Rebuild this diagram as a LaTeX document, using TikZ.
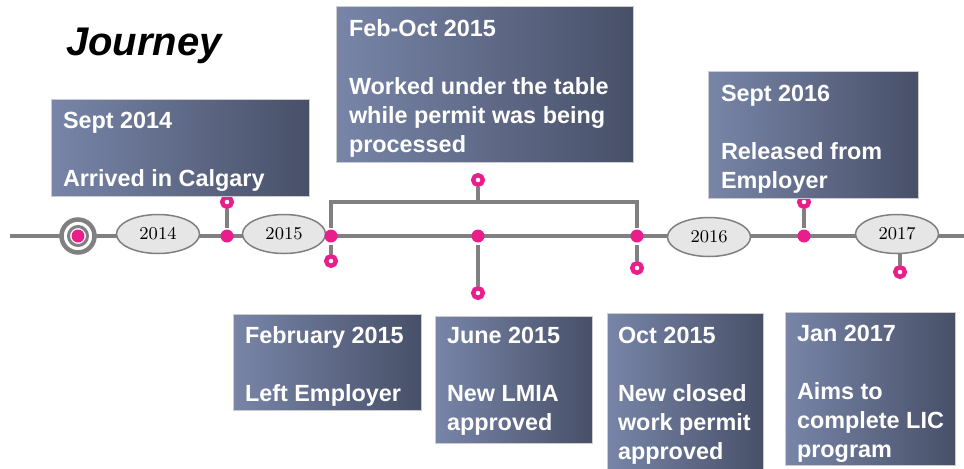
\documentclass[tikz,border=0pt]{standalone}
\usepackage{fontspec}
\usepackage{tikz}
\usetikzlibrary{shapes.geometric,positioning}

\newfontfamily\boxfont{Liberation Sans}
\definecolor{linegray}{RGB}{128,128,128}
\definecolor{dotpink}{RGB}{233,30,140}
\definecolor{boxlight}{RGB}{120,133,168}
\definecolor{boxmid}{RGB}{97,109,140}
\definecolor{boxdark}{RGB}{72,80,104}
\definecolor{yearfill}{RGB}{230,230,230}

\begin{document}
\begin{tikzpicture}[x=0.5pt,y=-0.5pt,line width=2pt]
  \tikzstyle{event}=[draw=gray!40,line width=0.5pt,left color=boxlight,middle color=boxmid,
                     right color=boxdark,inner sep=0pt,anchor=north west]
  \tikzstyle{caption}=[anchor=north west,inner sep=0pt,align=left,text=white,
                       font=\boxfont\bfseries\fontsize{11.7}{14.5}\selectfont]
  \tikzstyle{year}=[ellipse,draw=linegray,line width=0.75pt,fill=yearfill,minimum width=41.5pt,
                    minimum height=19.5pt,inner sep=0pt,font=\fontsize{9}{10}\selectfont]
  \tikzstyle{pinkdot}=[circle,fill=dotpink,minimum size=6.5pt,inner sep=0pt]
  \tikzstyle{pinkring}=[circle,draw=dotpink,fill=white,line width=2.2pt,minimum size=4.8pt,inner sep=0pt]
  \tikzstyle{stem}=[draw=linegray,line width=2pt]

  \useasboundingbox (0,0) rectangle (964,468);

  \node[anchor=base west,inner sep=0pt,font=\boxfont\bfseries\itshape\fontsize{20}{24}\selectfont]
    (title) at (64,55) {Journey};

  % the time line
  \coordinate (start) at (10,236);
  \coordinate (finish) at (964,236);
  \draw[stem] (start) -- (finish);

  % starting point
  \node[circle,draw=linegray,fill=white,line width=2.25pt,minimum size=16.5pt,inner sep=0pt] (origin) at (78,236) {};
  \node[circle,draw=linegray,line width=1.5pt,minimum size=9.5pt,inner sep=0pt] (originring) at (origin) {};
  \node[pinkdot] (origindot) at (origin) {};

  % years
  \node[year] (y2014) at (158,234) {2014};
  \node[year] (y2015) at (284,234) {2015};
  \node[year] (y2016) at (709,237) {2016};
  \node[year] (y2017) at (897,234) {2017};

  % events on the line
  \node[pinkdot] (d1) at (227,236) {};
  \node[pinkdot] (d2) at (331,236) {};
  \node[pinkdot] (d3) at (478,236) {};
  \node[pinkdot] (d4) at (637,236) {};
  \node[pinkdot] (d5) at (804,236) {};

  \node[pinkring] (p1) at (227,202) {};
  \node[pinkring] (p2) at (331,261) {};
  \node[pinkring] (p3) at (478,180) {};
  \node[pinkring] (p4) at (478,293) {};
  \node[pinkring] (p5) at (637,268) {};
  \node[pinkring] (p6) at (804,202) {};
  \node[pinkring] (p7) at (900,272) {};

  \coordinate (bmid) at (478,202);
  \coordinate (bright) at (637,202);

  \draw[stem] (d1) -- (p1);
  \draw[stem] (d2) -- (p2);
  \draw[stem] (d2) |- (bright) -- (d4);
  \draw[stem] (bmid) -- (p3);
  \draw[stem] (d3) -- (p4);
  \draw[stem] (d4) -- (p5);
  \draw[stem] (d5) -- (p6);
  \draw[stem] (p7 |- y2017.south) -- (p7);

  % boxes above
  \node[event,minimum width=129pt,minimum height=48.5pt] (sept14) at (51,99) {};
  \node[caption] (sept14txt) at ([xshift=5pt,yshift=-5.5pt]sept14.north west)
    {Sept 2014\\[14.5pt]Arrived in Calgary};

  \node[event,minimum width=148.5pt,minimum height=78pt] (febOct) at (336,6) {};
  \node[caption] (febOcttxt) at ([xshift=5.5pt,yshift=-6pt]febOct.north west)
    {Feb-Oct 2015\\[14.5pt]Worked under the table\\while permit was being\\processed};

  \node[event,minimum width=105pt,minimum height=63.5pt] (sept16) at (708,71) {};
  \node[caption] (sept16txt) at ([xshift=5.5pt,yshift=-6pt]sept16.north west)
    {Sept 2016\\[14.5pt]Released from\\Employer};

  % boxes below
  \node[event,minimum width=94pt,minimum height=48pt] (feb15) at (233,314) {};
  \node[caption] (feb15txt) at ([xshift=5pt,yshift=-5.5pt]feb15.north west)
    {February 2015\\[14.5pt]Left Employer};

  \node[event,minimum width=78.5pt,minimum height=63.5pt] (june15) at (435,316) {};
  \node[caption] (june15txt) at ([xshift=5pt,yshift=-4.5pt]june15.north west)
    {June 2015\\[14.5pt]New LMIA\\approved};

  \node[event,minimum width=78pt,minimum height=80pt] (oct15) at (607,313) {};
  \node[caption] (oct15txt) at ([xshift=4.5pt,yshift=-6pt]oct15.north west)
    {Oct 2015\\[14.5pt]New closed\\work permit\\approved};

  \node[event,minimum width=85pt,minimum height=76.5pt] (jan17) at (785,312) {};
  \node[caption] (jan17txt) at ([xshift=5pt,yshift=-5.5pt]jan17.north west)
    {Jan 2017\\[14.5pt]Aims to\\complete LIC\\program};
\end{tikzpicture}
\end{document}
